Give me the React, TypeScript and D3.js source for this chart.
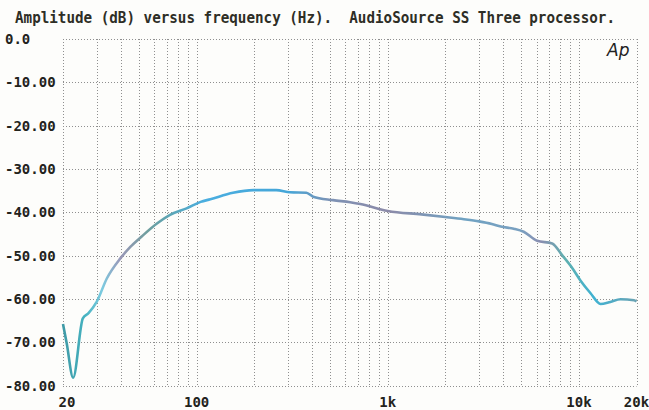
import { useRef, useEffect } from 'react';
import * as d3 from 'd3';

// frequency response (Hz, dB)
const freqs = [20, 20.9, 22.6, 25.4, 27.2, 30, 33.9, 40, 45, 51.6, 62, 72.6, 88.6, 105, 118, 155, 198, 261, 308, 375, 407, 517, 635, 718, 1000, 1500, 2000, 2500, 3000, 3500, 3900, 4560, 5140, 6040, 7240, 8160, 9200, 10200, 11500, 12970, 14600, 16500, 19400, 20000];
const levels = [-65.8, -70.2, -78.2, -64.5, -63.3, -60.7, -55.3, -50.6, -48.0, -45.6, -42.6, -40.6, -39.1, -37.6, -37.0, -35.5, -34.9, -34.9, -35.4, -35.5, -36.4, -37.2, -37.7, -38.1, -39.7, -40.5, -41.1, -41.6, -42.1, -42.7, -43.3, -43.8, -44.5, -46.6, -47.2, -49.9, -52.8, -55.8, -58.7, -61.2, -60.7, -60.1, -60.3, -60.6];

const yTicks = [0, -10, -20, -30, -40, -50, -60, -70, -80];
const yTickLabels = ['0.0', '-10.00', '-20.00', '-30.00', '-40.00', '-50.00', '-60.00', '-70.00', '-80.00'];
const xGrid = [20, 30, 40, 50, 60, 70, 80, 90, 100, 200, 300, 400, 500, 600, 700, 800, 900, 1000, 2000, 3000, 4000, 5000, 6000, 7000, 8000, 9000, 10000, 20000];
const xTicks = [20, 100, 1000, 10000, 20000];
const xTickLabels = ['20', '100', '1k', '10k', '20k'];

const title = 'Amplitude (dB) versus frequency (Hz).  AudioSource SS Three processor.';

// trace colour drifts along the sweep
const traceStops: [number, string][] = [
    [20, '#3f9aa6'], [26, '#45b2c0'], [32, '#7ccbe0'], [40, '#9a98b8'],
    [55, '#6f9e9e'], [75, '#5aa6b8'], [110, '#4aaee0'], [300, '#45a6d8'],
    [500, '#7d92b4'], [1000, '#8c8aa8'], [2500, '#6fa2c2'], [5000, '#7aa0c0'],
    [6300, '#8a8eb0'], [8500, '#5fb0b0'], [12000, '#3fb2d2'], [20000, '#6aa2b2'],
];

const W = 649, H = 410;
const mono = '"DejaVu Sans Mono", monospace';

export default function App() {
    const svgRef = useRef<SVGSVGElement>(null);

    useEffect(() => {
        if (!svgRef.current) return;
        const svg = d3.select(svgRef.current);
        svg.selectAll('*').remove();

        const x = d3.scaleLog().domain([20, 20000]).range([63, 636.5]);
        const y = d3.scaleLinear().domain([-80, 0]).range([385.5, 39]);

        svg.append('rect').attr('width', W).attr('height', H).attr('fill', '#fdfdfb');

        // grid
        const grid = svg.append('g').attr('stroke', '#8f8f8f').attr('stroke-width', 1)
            .attr('stroke-dasharray', '1,2').attr('fill', 'none');
        grid.selectAll('line.v').data(xGrid).enter().append('line')
            .attr('x1', d => Math.round(x(d)) + 0.5).attr('x2', d => Math.round(x(d)) + 0.5)
            .attr('y1', y(0)).attr('y2', y(-80));
        grid.selectAll('line.h').data(yTicks).enter().append('line')
            .attr('x1', x(20)).attr('x2', x(20000))
            .attr('y1', d => Math.round(y(d)) + 0.5).attr('y2', d => Math.round(y(d)) + 0.5);

        // title
        svg.append('text')
            .attr('x', 15).attr('y', 23)
            .attr('font-family', mono).attr('font-weight', 'bold').attr('font-size', 15)
            .attr('fill', '#2e2e26')
            .attr('textLength', 600).attr('lengthAdjust', 'spacingAndGlyphs')
            .attr('xml:space', 'preserve')
            .text(title);

        // y labels
        svg.append('g').selectAll('text').data(yTicks).enter().append('text')
            .attr('x', 5).attr('y', d => y(d) + 5)
            .attr('font-family', mono).attr('font-weight', 'bold').attr('font-size', 14)
            .attr('fill', '#23231c')
            .text((_, i) => yTickLabels[i]);

        // x labels
        svg.append('g').selectAll('text').data(xTicks).enter().append('text')
            .attr('x', (d, i) => i === 0 ? x(d) + 4 : x(d))
            .attr('y', 407)
            .attr('text-anchor', 'middle')
            .attr('font-family', mono).attr('font-weight', 'bold').attr('font-size', 14)
            .attr('fill', '#23231c')
            .text((_, i) => xTickLabels[i]);

        // Ap logo
        svg.append('text')
            .attr('x', 607).attr('y', 56)
            .attr('font-family', '"DejaVu Sans", sans-serif').attr('font-style', 'italic')
            .attr('font-size', 17).attr('fill', '#222')
            .text('Ap');

        // trace gradient
        const grad = svg.append('defs').append('linearGradient')
            .attr('id', 'trace').attr('gradientUnits', 'userSpaceOnUse')
            .attr('x1', x(20)).attr('x2', x(20000)).attr('y1', 0).attr('y2', 0);
        grad.selectAll('stop').data(traceStops).enter().append('stop')
            .attr('offset', d => (x(d[0]) - x(20)) / (x(20000) - x(20)))
            .attr('stop-color', d => d[1]);

        const pts = freqs.map((f, i) => [f, levels[i]] as [number, number]);
        const line = d3.line<[number, number]>()
            .x(d => x(d[0])).y(d => y(d[1]))
            .curve(d3.curveMonotoneX);

        svg.append('path')
            .attr('d', line(pts))
            .attr('fill', 'none')
            .attr('stroke', 'url(#trace)')
            .attr('stroke-width', 2.6)
            .attr('stroke-linejoin', 'round');
    }, []);

    return (
        <svg ref={svgRef} width={W} height={H}
            style={{ position: 'absolute', left: 0, top: 0, display: 'block' }} />
    );
}
